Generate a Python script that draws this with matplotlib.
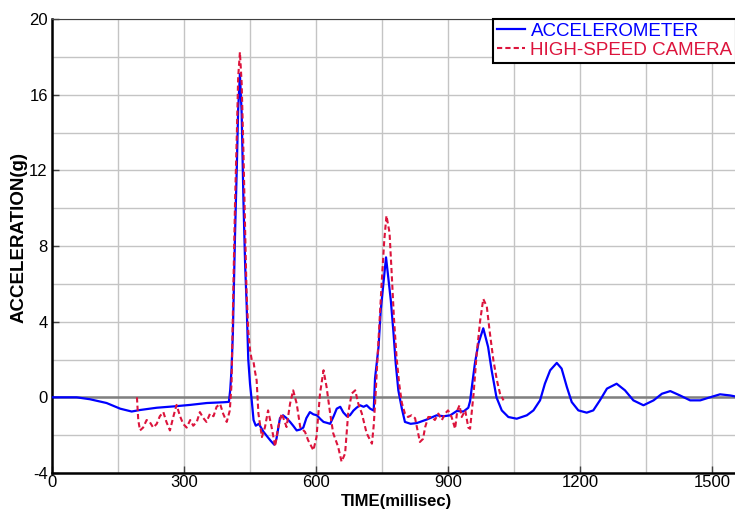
import matplotlib
matplotlib.use('Agg')
import matplotlib.pyplot as plt
from matplotlib.ticker import MultipleLocator

plt.rcParams['font.family'] = ['Liberation Sans', 'DejaVu Sans']
plt.rcParams['axes.unicode_minus'] = False

# accelerometer trace (ms, g)
acc_t = [0, 56, 86, 124, 155, 181, 200, 238, 276, 314, 352, 390, 402,
         405, 408, 411, 416, 420, 423, 427, 431, 435, 439, 442, 446, 450, 454, 458, 463,
         470, 480, 490, 497, 505, 510, 518, 525, 533, 541, 548, 556, 564, 571, 578, 586,
         594, 602, 610, 617, 625, 632, 640, 647, 655, 662, 670, 677, 685, 692, 700, 708,
         715, 723, 731, 734, 742, 747, 753, 759, 764, 770, 776, 781, 787, 795, 802, 815,
         829, 852, 874, 890, 905, 920, 935, 946, 950, 954, 961, 969, 980, 991, 999, 1010,
         1022, 1037, 1056, 1079, 1094, 1109, 1120, 1132, 1147, 1158, 1170, 1181, 1196, 1215, 1230, 1245,
         1261, 1283, 1302, 1321, 1344, 1367, 1386, 1405, 1427, 1450, 1473, 1495, 1518, 1541, 1552]
acc_g = [0, 0, -0.1, -0.3, -0.6, -0.75, -0.67, -0.55, -0.48, -0.4, -0.3, -0.26, -0.24,
         0.4, 1.5, 3.4, 8.7, 12.2, 15.2, 17.1, 15.0, 10.4, 6.9, 5.1, 2.0, 0.7, -0.2, -1.2, -1.5,
         -1.4, -1.8, -2.1, -2.3, -2.5, -2.2, -1.1, -0.95, -1.1, -1.3, -1.5, -1.75, -1.7, -1.6, -1.1, -0.78,
         -0.9, -0.95, -1.15, -1.3, -1.35, -1.4, -1.0, -0.6, -0.5, -0.8, -1.0, -0.95, -0.7, -0.55, -0.42, -0.5,
         -0.42, -0.6, -0.7, 1.0, 2.66, 4.6, 6.0, 7.4, 6.36, 5.1, 3.4, 1.8, 0.37, -0.6, -1.3, -1.4,
         -1.36, -1.17, -0.95, -1.0, -0.95, -0.72, -0.75, -0.55, -0.2, 0.54, 1.8, 2.85, 3.65, 2.66, 1.43, 0.0,
         -0.69, -1.04, -1.13, -0.95, -0.69, -0.16, 0.72, 1.43, 1.82, 1.52, 0.54, -0.25, -0.69, -0.81, -0.69, -0.16,
         0.46, 0.72, 0.37, -0.16, -0.42, -0.16, 0.19, 0.33, 0.1, -0.16, -0.16, 0.0, 0.16, 0.1, 0.05]

# high-speed camera trace (ms, g)
cam_t = [193, 196, 200, 207, 215, 222, 230, 238, 245, 253, 260, 268, 276, 283, 291, 298,
         306, 314, 321, 329, 336, 344, 351, 359, 367, 374, 382, 389, 397, 404, 408, 412,
         416, 420, 423, 427, 431, 435, 439, 442, 446, 450, 454, 458, 461, 465, 469, 477,
         484, 491, 499, 507, 514, 522, 533, 541, 548, 556, 564, 575, 582, 594, 601, 609,
         617, 624, 632, 639, 650, 658, 666, 673, 681, 689, 696, 704, 715, 727, 731, 735,
         739, 744, 749, 755, 760, 767, 772, 777, 783, 789, 795, 802, 809, 817, 825, 832,
         836, 843, 848, 855, 863, 870, 878, 886, 893, 900, 908, 916, 921, 926, 931, 939,
         946, 950, 958, 965, 973, 980, 988, 995, 1003, 1011, 1018, 1026]
cam_g = [0, -1.2, -1.75, -1.6, -1.2, -1.3, -1.6, -1.4, -1.0, -0.78, -1.3, -1.75, -1.0, -0.4, -1.0, -1.4,
         -1.6, -1.2, -1.5, -1.3, -0.78, -1.1, -1.3, -0.87, -1.0, -0.5, -0.35, -0.87, -1.3, -0.7, 0.73, 5.65,
         10.4, 13.9, 16.9, 18.25, 16.6, 13.0, 8.7, 5.65, 3.5, 2.5, 1.96, 1.86, 1.4, 0.9, -0.85, -2.1,
         -1.57, -0.69, -1.57, -2.6, -1.57, -0.85, -1.57, -0.33, 0.37, -0.33, -1.57, -1.83, -2.27, -2.8, -2.1, 0.2,
         1.43, 0.54, -0.85, -1.9, -2.6, -3.4, -2.97, -0.85, 0.2, 0.37, -0.33, -0.85, -1.9, -2.45, -1.5, 0.0,
         1.8, 3.9, 6.0, 8.3, 9.6, 8.7, 6.5, 4.2, 2.1, 0.7, -0.3, -0.86, -1.04, -0.95, -1.1, -1.9,
         -2.36, -2.2, -1.57, -1.04, -1.04, -1.2, -0.86, -1.2, -0.86, -0.69, -1.04, -1.66, -0.69, -0.42, -1.04, -0.69,
         -1.6, -1.66, 0.2, 2.3, 4.07, 5.2, 4.8, 3.4, 1.96, 0.9, 0.2, -0.16]

BLUE = '#0000FF'
RED = '#DC143C'

fig = plt.figure(figsize=(7.35, 5.11), dpi=100)
ax = fig.add_axes([52/735, 38/511, 683/735, 454/511])

ax.set_xlim(0, 1552)
ax.set_ylim(-4, 20)
ax.xaxis.set_major_locator(MultipleLocator(300))
ax.xaxis.set_minor_locator(MultipleLocator(150))
ax.yaxis.set_major_locator(MultipleLocator(4))
ax.yaxis.set_minor_locator(MultipleLocator(2))
ax.grid(which='both', color='#C4C4C4', lw=1)
ax.set_axisbelow(True)
ax.axhline(0, color='#808080', lw=1.8, zorder=1.5)

ax.plot(acc_t, acc_g, color=BLUE, lw=1.6, label='ACCELEROMETER', zorder=3)
ax.plot(cam_t, cam_g, color=RED, lw=1.5, ls=(0, (2.5, 1.5)), label='HIGH-SPEED CAMERA', zorder=4)

ax.tick_params(which='major', direction='in', length=5, width=1, color='#404040',
               labelsize=12)
ax.tick_params(axis='x', pad=1.5)
ax.tick_params(axis='y', pad=3)
ax.tick_params(which='minor', length=0)
ax.spines['right'].set_visible(False)
ax.spines['top'].set_color('#404040')
ax.spines['left'].set_linewidth(1.8)
ax.spines['bottom'].set_linewidth(1.8)

ax.set_xlabel('TIME(millisec)', fontsize=12, fontweight='bold')
ax.xaxis.set_label_coords(0.504, -0.0465)
ax.set_ylabel('ACCELERATION(g)', fontsize=13.5, fontweight='bold')
ax.yaxis.set_label_coords(-0.036, 0.519)

leg = ax.legend(loc='upper left', bbox_to_anchor=(493/735, 1 - 19/511),
                bbox_transform=fig.transFigure, fontsize=13.5, frameon=True,
                fancybox=False, borderaxespad=0, borderpad=0.2, labelspacing=0.1,
                handlelength=1.5, handletextpad=0.3)
leg.get_frame().set_edgecolor('black')
leg.get_frame().set_linewidth(1.5)
leg.get_frame().set_alpha(1)
for txt, c in zip(leg.get_texts(), [BLUE, RED]):
    txt.set_color(c)

fig.savefig('out.png', dpi=100)
